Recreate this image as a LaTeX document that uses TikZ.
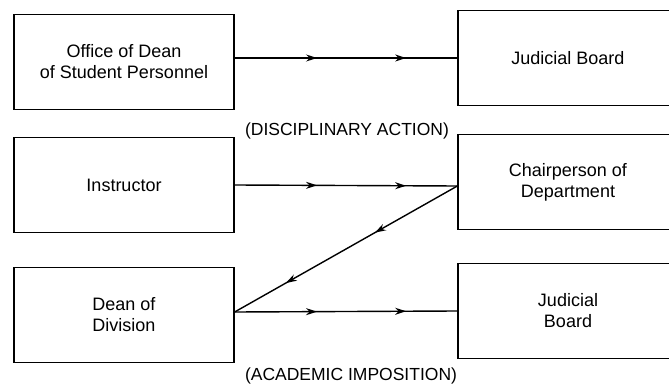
\documentclass[tikz,border=0pt]{standalone}
\usepackage{fontspec}
\setmainfont{Liberation Sans}
\usetikzlibrary{arrows.meta,decorations.markings}

\begin{document}
\begin{tikzpicture}[x=1pt,y=-1pt,
    box/.style={draw, line width=1.3pt, minimum width=220pt, minimum height=95pt,
      inner sep=0pt, align=center, font=\fontsize{18}{21}\selectfont},
    flow/.style={line width=1.4pt, postaction={decorate},
      decoration={markings,
        mark=at position 0.37 with {\arrow{Stealth[length=11pt,width=7pt]}},
        mark=at position 0.77 with {\arrow{Stealth[length=11pt,width=7pt]}}}},
    caption/.style={font=\fontsize{17.5}{20}\selectfont}]
  \path[use as bounding box, clip] (0,0) rectangle (669,390);

  % Draw the boxes
  \node[box] (office) at (124,62) {Office of Dean\\of Student Personnel};
  \node[box] (instructor) at (124,185) {Instructor};
  \node[box] (dean) at (124,315) {Dean of\\Division};
  \node[box] (board1) at (568,58) {Judicial Board};
  \node[box] (chair) at (568,182) {Chairperson of\\Department};
  \node[box] (board2) at (568,311) {Judicial\\Board};

  % Points where the lines meet
  \coordinate (top) at ([yshift=-4pt]chair.west);
  \coordinate (low) at ([yshift=3pt]dean.east);

  % Draw the connectors
  \draw[flow] (office.east |- board1.west) -- (board1.west);
  \draw[flow] (instructor.east) -- (top);
  \draw[flow] (top) -- (low);
  \draw[flow] (low) -- (board2.west);

  % Labels of the two cases
  \node[caption] (discipline) at (347,131) {(DISCIPLINARY ACTION)};
  \node[caption] (academic) at (351,376) {(ACADEMIC IMPOSITION)};
\end{tikzpicture}
\end{document}
